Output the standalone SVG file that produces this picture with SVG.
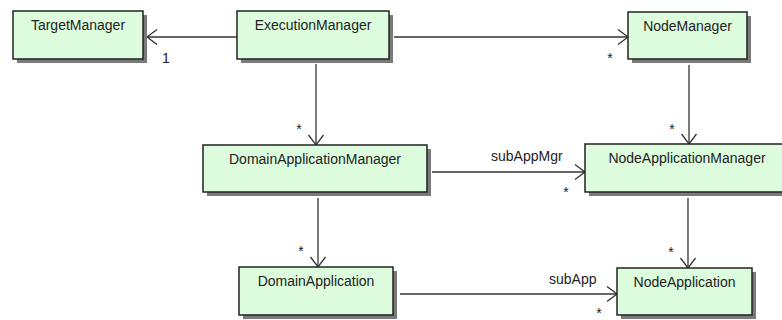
<svg xmlns="http://www.w3.org/2000/svg" width="782" height="320" viewBox="0 0 782 320">
<defs>
<marker id="open" markerUnits="userSpaceOnUse" markerWidth="14" markerHeight="18" viewBox="-1 -9 13 18" refX="10" refY="0" orient="auto">
<path d="M0,-7.5 L10,0 L0,7.5" fill="none" stroke="#333" stroke-width="1.3"/>
</marker>
</defs>
<style>
.sh{fill:#7a7a7a;}
.box{fill:#ddfcdd;stroke:#222;stroke-width:1.5;}
.t{font-family:"Liberation Sans",Arial,sans-serif;font-size:14px;fill:#222;text-anchor:middle;}
.l{font-family:"Liberation Sans",Arial,sans-serif;font-size:14px;fill:#222;}
.c{fill:none;stroke:#333;stroke-width:1.3;marker-end:url(#open);}
</style>
<rect width="782" height="320" fill="#fff"/>
<g id="connectors">
<line class="c" x1="237" y1="37" x2="147" y2="37"/>
<line class="c" x1="394" y1="37" x2="628" y2="37"/>
<line class="c" x1="316" y1="64" x2="316" y2="145"/>
<line class="c" x1="689" y1="65" x2="689" y2="144"/>
<line class="c" x1="432" y1="172" x2="585" y2="172"/>
<line class="c" x1="318" y1="198" x2="318" y2="267"/>
<line class="c" x1="688" y1="198" x2="688" y2="268"/>
<line class="c" x1="400" y1="294" x2="617" y2="294"/>
<text class="l" x="166" y="63" text-anchor="middle">1</text>
<text class="l" x="610" y="63" text-anchor="middle">*</text>
<text class="l" x="299" y="134" text-anchor="middle">*</text>
<text class="l" x="672" y="134" text-anchor="middle">*</text>
<text class="l" x="491" y="161">subAppMgr</text>
<text class="l" x="566" y="197" text-anchor="middle">*</text>
<text class="l" x="301" y="256" text-anchor="middle">*</text>
<text class="l" x="671" y="257" text-anchor="middle">*</text>
<text class="l" x="549" y="284">subApp</text>
<text class="l" x="599" y="318" text-anchor="middle">*</text>
</g>
<g id="TargetManager">
<rect class="sh" x="17" y="15" width="130" height="48"/>
<rect class="box" x="13" y="11" width="130" height="48"/>
<text class="t" x="78" y="30">TargetManager</text>
</g>
<g id="ExecutionManager">
<rect class="sh" x="241" y="15" width="152" height="48"/>
<rect class="box" x="237" y="11" width="152" height="48"/>
<text class="t" x="313" y="30">ExecutionManager</text>
</g>
<g id="NodeManager">
<rect class="sh" x="632" y="16" width="119" height="47"/>
<rect class="box" x="628" y="12" width="119" height="47"/>
<text class="t" x="687.5" y="31">NodeManager</text>
</g>
<g id="DomainApplicationManager">
<rect class="sh" x="207" y="149" width="224" height="47"/>
<rect class="box" x="203" y="145" width="224" height="47"/>
<text class="t" x="315" y="164">DomainApplicationManager</text>
</g>
<g id="NodeApplicationManager">
<rect class="sh" x="589" y="148" width="206" height="48"/>
<rect class="box" x="585" y="144" width="206" height="48"/>
<text class="t" x="687" y="163">NodeApplicationManager</text>
</g>
<g id="DomainApplication">
<rect class="sh" x="243" y="271" width="154" height="48"/>
<rect class="box" x="239" y="267" width="154" height="48"/>
<text class="t" x="316" y="286">DomainApplication</text>
</g>
<g id="NodeApplication">
<rect class="sh" x="621" y="272" width="135" height="47"/>
<rect class="box" x="617" y="268" width="135" height="47"/>
<text class="t" x="684.5" y="287">NodeApplication</text>
</g>
</svg>
